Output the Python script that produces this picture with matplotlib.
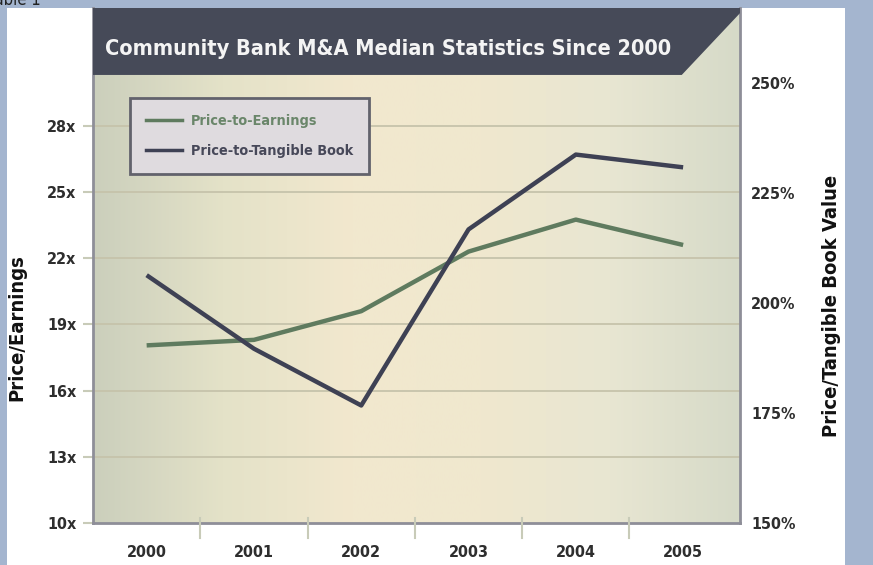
import numpy as np
import matplotlib.pyplot as plt
from matplotlib.patches import Polygon
from matplotlib.lines import Line2D

# values
years = ['2000', '2001', '2002', '2003', '2004', '2005']
pe_ratio = [18.05, 18.3, 19.6, 22.3, 23.75, 22.6]          # left axis, x
ptbv_ratio = [206.3, 189.6, 176.7, 216.7, 233.7, 230.8]    # right axis, %
pe_ticks = [10, 13, 16, 19, 22, 25, 28]
ptbv_ticks = [150, 175, 200, 225, 250]

green = '#5f7b5f'
navy = '#3e4154'
narrow = dict(family='DejaVu Sans', stretch='condensed')

fig = plt.figure(figsize=(8.73, 5.65), dpi=100)
fig.patch.set_facecolor('#a4b5cf')
# white panel behind everything
bg = fig.add_axes([7 / 873, 0, 838 / 873, 557 / 565], zorder=-1)
bg.set_facecolor('white')
bg.set_xticks([])
bg.set_yticks([])
for s in bg.spines.values():
    s.set_visible(False)
fig.text(-0.014, 1.0, 'Table 1', fontsize=12, va='center', ha='left', color='#222222', **narrow)

ax = fig.add_axes([93 / 873, 42 / 565, 647 / 873, 515 / 565])
x = np.arange(len(years))

# background gradient
cols = np.array([[203, 207, 188], [228, 226, 200], [242, 232, 206], [240, 232, 206],
                 [232, 230, 210], [214, 218, 200]]) / 255.0
pos = np.linspace(0, 1, len(cols))
xs = np.linspace(0, 1, 300)
grad = np.stack([np.interp(xs, pos, cols[:, i]) for i in range(3)], axis=-1)[None, :, :]
ax.imshow(grad, extent=[0, 1, 0, 1], transform=ax.transAxes, aspect='auto', zorder=0)

tick_font = dict(fontsize=11.5, fontweight='bold', color='#2e2e2e', **narrow)
ax.set_xlim(-0.5, 5.53)
ax.set_ylim(10, 33.34)
ax.set_yticks(pe_ticks)
ax.set_yticklabels([f'{t}x' for t in pe_ticks], **tick_font)
ax.set_xticks(x)
ax.set_xticklabels(years, **tick_font)
ax.tick_params(axis='x', length=0, pad=16)
ax.tick_params(axis='y', length=7, width=1.5, color='#c8cbb8', pad=5)
for t in pe_ticks[1:]:
    ax.axhline(t, color='#c6c3ab', lw=1.3, zorder=1)
# separator ticks between years
for xm in x[:-1] + 0.5:
    ax.plot([xm, xm], [0.01, -0.03], transform=ax.get_xaxis_transform(), clip_on=False,
            color='#c8cbb8', lw=1.5, zorder=3)

for s in ax.spines.values():
    s.set_color('#8e8e98')
    s.set_linewidth(2)
ax.spines['top'].set_visible(False)

ax.plot(x, pe_ratio, color=green, lw=3.2, solid_joinstyle='round', solid_capstyle='butt', zorder=4)

ax2 = ax.twinx()
ax2.set_ylim(150, 267)
ax2.set_yticks(ptbv_ticks)
ax2.set_yticklabels([f'{t}%' for t in ptbv_ticks], **tick_font)
ax2.tick_params(axis='y', length=0, pad=8)
for s in ax2.spines.values():
    s.set_visible(False)
ax2.plot(x, ptbv_ratio, color=navy, lw=3.2, solid_joinstyle='round', solid_capstyle='butt', zorder=4)

ax.set_ylabel('Price/Earnings', fontsize=14.5, fontweight='bold', color='#111111', **narrow)
ax.yaxis.set_label_coords(-0.103, 0.38)
ax2.set_ylabel('Price/Tangible Book Value', fontsize=14.5, fontweight='bold', color='#111111',
               **narrow)
ax2.yaxis.set_label_coords(1.127, 0.421)

# title band
band = Polygon([(0, 0.870), (0.910, 0.870), (1.0, 0.99), (1.0, 1.0), (0, 1.0)], closed=True,
               transform=ax2.transAxes, facecolor='#464a58', edgecolor='none', zorder=5)
ax2.add_patch(band)
ax2.text(0.019, 0.920, 'Community Bank M&A Median Statistics Since 2000', transform=ax2.transAxes,
         fontsize=15.6, fontweight='bold', color='#f4f4f4', va='center', zorder=6, **narrow)

handles = [Line2D([], [], color=green, lw=2.5), Line2D([], [], color=navy, lw=2.5)]
leg = ax2.legend(handles, ['Price-to-Earnings', 'Price-to-Tangible Book'], loc='upper left',
                 bbox_to_anchor=(0.057, 0.825), borderaxespad=0, frameon=True, fancybox=False,
                 handlelength=2.5, prop=dict(size=10.4, weight='bold', **narrow), borderpad=1.1,
                 labelspacing=1.1, handletextpad=0.6)
leg.get_frame().set_facecolor('#dfdbdf')
leg.get_frame().set_edgecolor('#62626c')
leg.get_frame().set_linewidth(2)
leg.get_frame().set_alpha(1)
leg.get_texts()[0].set_color('#6a866a')
leg.get_texts()[1].set_color('#474859')
leg.set_zorder(7)

fig.savefig('out.png', dpi=100)
